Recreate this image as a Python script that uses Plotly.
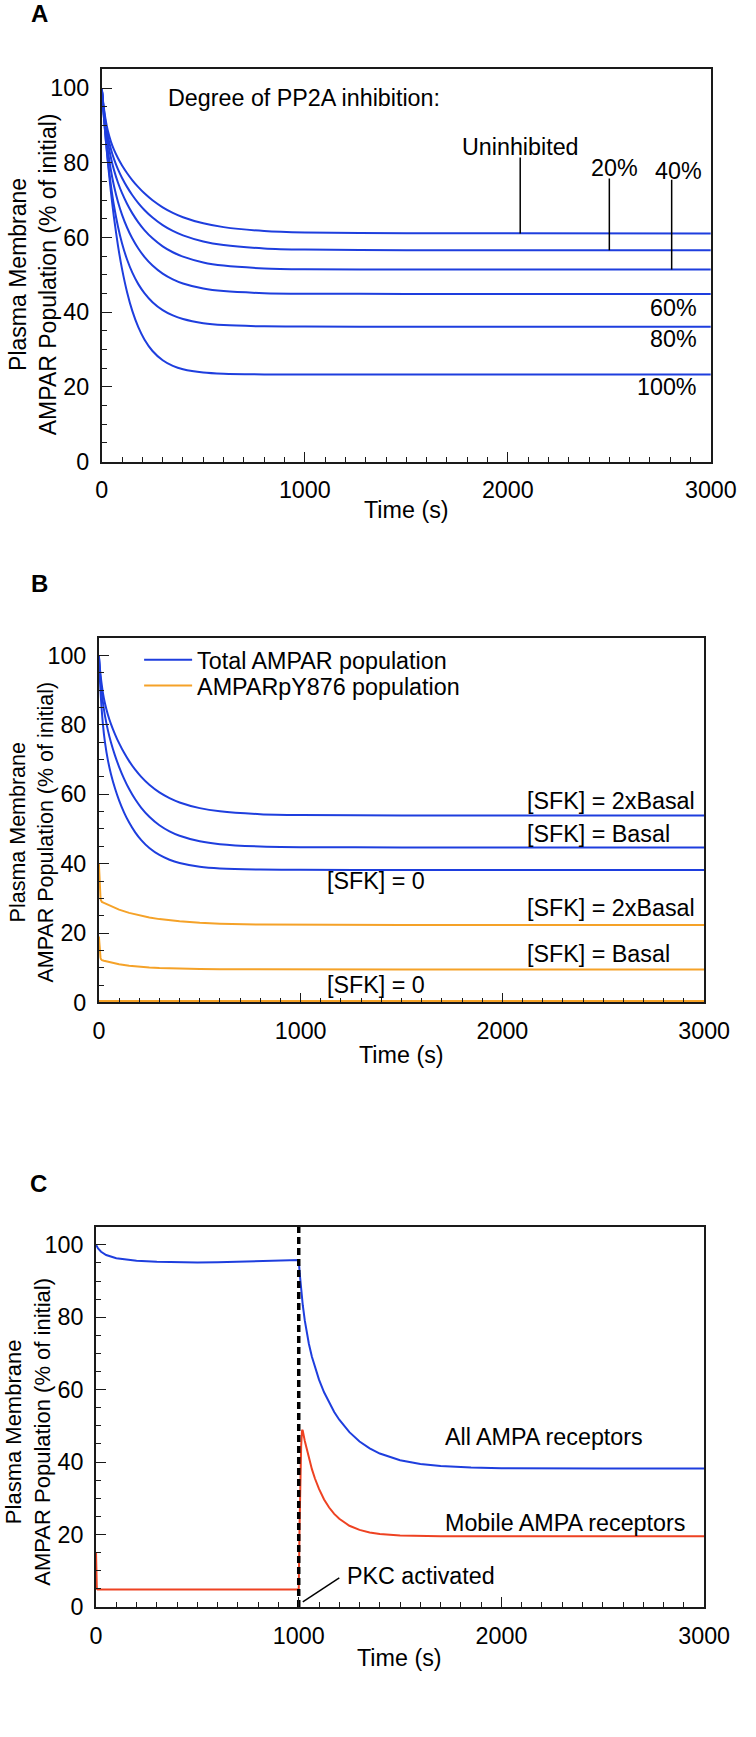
import plotly.graph_objects as go

W, H = 756, 1737
FONT = "Liberation Sans, Arial, Helvetica, sans-serif"
FS = 23.3
BLUE = "rgb(30,62,222)"
ORANGE = "rgb(245,162,40)"
RED = "rgb(238,66,34)"

# ---------------- Panel A data ----------------
tA = [0, 5, 10, 20, 30, 45, 60, 80, 100, 125, 150, 180, 210, 250, 300, 350, 400, 500, 600, 800, 1000, 1500, 3000]
a_uninhibited = [100, 97.16, 94.82, 91.2, 88.56, 85.67, 83.51, 81.21, 79.29, 77.21, 75.38, 73.48, 71.83, 69.97, 68.09,
                 66.61, 65.44, 63.8, 62.78, 61.75, 61.35, 61.12, 61.1]
a_20 = [100, 96.95, 94.37, 90.27, 87.17, 83.69, 81.05, 78.25, 75.95, 73.49, 71.39, 69.22, 67.38, 65.33, 63.31,
        61.76, 60.57, 58.94, 57.98, 57.08, 56.77, 56.61, 56.6]
a_40 = [100, 96.74, 93.91, 89.26, 85.61, 81.38, 78.11, 74.66, 71.86, 68.96, 66.52, 64.06, 61.99, 59.78, 57.64,
        56.05, 54.87, 53.32, 52.47, 51.73, 51.5, 51.4, 51.4]
a_60 = [100, 96.4, 93.19, 87.74, 83.3, 78.02, 73.87, 69.53, 66.08, 62.61, 59.8, 57.05, 54.83, 52.5, 50.34,
        48.8, 47.69, 46.34, 45.64, 45.09, 44.95, 44.9, 44.9]
a_80 = [100, 96.06, 92.45, 86.08, 80.66, 73.97, 68.57, 62.87, 58.4, 54.04, 50.67, 47.51, 45.1, 42.68, 40.55,
        39.13, 38.16, 37.06, 36.54, 36.2, 36.13, 36.1, 36.1]
a_100 = [100, 96.26, 92.7, 86.09, 80.12, 72.2, 65.39, 57.76, 51.52, 45.27, 40.41, 35.98, 32.7, 29.6, 27.12,
         25.62, 24.7, 23.81, 23.49, 23.32, 23.3, 23.3, 23.3]
a_series = [a_uninhibited, a_20, a_40, a_60, a_80, a_100]

# leader lines (x position, top of line, end on curve)
a_lead_x = [2061, 2500, 2807]
a_lead_top = [81.4, 75.8, 75.5]
a_lead_bot = [61.1, 56.6, 51.4]
a_lead_labels = ["Uninhibited", "20%", "40%"]
a_right_labels = ["60%", "80%", "100%"]

# ---------------- Panel B data ----------------
tB = [0, 5, 10, 20, 30, 45, 60, 80, 100, 125, 150, 180, 210, 250, 300, 350, 400, 500, 600, 800, 1000, 1500, 3000]
b_total_2x = [100, 96.34, 93.47, 89.23, 86.22, 82.88, 80.25, 77.3, 74.74, 71.95, 69.55, 67.09, 65.01, 62.74, 60.54,
              58.89, 57.65, 56.02, 55.09, 54.28, 54.02, 53.91, 53.9]
b_total_basal = [100, 95.46, 91.85, 86.5, 82.66, 78.35, 74.94, 71.16, 67.93, 64.45, 61.51, 58.55, 56.11, 53.52, 51.08,
                 49.33, 48.05, 46.46, 45.62, 44.95, 44.77, 44.7, 44.7]
b_total_0 = [100, 93.12, 87.78, 80.18, 75.05, 69.72, 65.81, 61.67, 58.27, 54.74, 51.85, 49.03, 46.8, 44.52, 42.51,
             41.13, 40.2, 39.13, 38.63, 38.29, 38.23, 38.2, 38.2]
tB2 = [0, 2, 4, 6, 8, 10, 15, 25, 50, 75, 100, 150, 200, 250, 300, 400, 500, 600, 800, 1000, 1500, 3000]
b_py_2x = [40, 35.8, 33.0, 31.2, 30.1, 29.5, 28.95, 28.69, 27.97, 27.33, 26.77, 25.82, 25.08, 24.49, 24.02,
           23.37, 22.96, 22.71, 22.46, 22.36, 22.31, 22.3]
b_py_basal = [19, 16.3, 14.6, 13.5, 12.9, 12.5, 12.2, 12.03, 11.64, 11.31, 11.03, 10.6, 10.29, 10.06, 9.9,
              9.71, 9.61, 9.55, 9.51, 9.5, 9.5, 9.5]
b_py_0 = [0.4] * len(tB2)

# ---------------- Panel C data ----------------
PKC_TIME = 1000
tC_all = [0, 10, 25, 50, 100, 150, 200, 300, 400, 500, 600, 700, 800, 900, 1000,
          1005, 1010, 1015, 1020, 1030, 1040, 1050, 1065, 1080, 1100, 1125, 1150, 1175, 1200, 1250, 1300, 1350,
          1400, 1500, 1600, 1700, 1850, 2000, 2500, 3000]
c_all = [100, 99.0, 98.1, 97.2, 96.3, 95.9, 95.6, 95.3, 95.15, 95.1, 95.2, 95.35, 95.5, 95.65, 95.8,
         92.03, 88.74, 85.86, 83.32, 79.06, 75.59, 72.69, 69.09, 66.11, 62.76, 59.28, 56.36, 53.84, 51.7, 48.26,
         45.69, 43.79, 42.36, 40.51, 39.48, 38.91, 38.49, 38.32, 38.2, 38.2]
tC_mob = [0, 1, 2, 4, 8, 500, 1000, 1004, 1008, 1012, 1016, 1019, 1030, 1040, 1050, 1065, 1080, 1100, 1125,
          1150, 1175, 1200, 1250, 1300, 1350, 1400, 1500, 1600, 1700, 2000, 3000]
c_mob = [15, 9, 6.2, 5.0, 4.8, 4.8, 4.8, 22, 36, 44.5, 48.6, 48.9, 45.84, 43.34, 41.05, 38.05, 35.46, 32.58, 29.67,
         27.44, 25.67, 24.32, 22.41, 21.26, 20.57, 20.15, 19.74, 19.59, 19.53, 19.5, 19.5]
c_pkc_lead_x = [1020, 1200]
c_pkc_lead_y = [1.4, 8.0]

x_tickvals = [0, 500, 1000, 1500, 2000, 2500, 3000]
x_ticktext = ["0", "", "1000", "", "2000", "", "3000"]
x_minor = list(range(0, 3001, 100))
y_tickvals = [0, 20, 40, 60, 80, 100]
y_ticktext = ["0", "20", "40", "60", "80", "100"]
y_minor = list(range(0, 106, 5))


def px(x):
    return x / W


def py(y):
    return 1 - y / H


fig = go.Figure()

# Panel A
for s in a_series:
    fig.add_trace(go.Scatter(x=tA, y=s, mode="lines", line=dict(color=BLUE, width=2, shape="spline", smoothing=0.6),
                             xaxis="x", yaxis="y", showlegend=False, hoverinfo="skip"))
for lx, lt, lb in zip(a_lead_x, a_lead_top, a_lead_bot):
    fig.add_trace(go.Scatter(x=[lx, lx], y=[lt, lb], mode="lines", line=dict(color="black", width=1.5),
                             xaxis="x", yaxis="y", showlegend=False, hoverinfo="skip"))

# Panel B
for s, nm, show in [(b_total_2x, "Total AMPAR population", True),
                    (b_total_basal, "", False),
                    (b_total_0, "", False)]:
    fig.add_trace(go.Scatter(x=tB, y=s, mode="lines", name=nm, legend="legend",
                             line=dict(color=BLUE, width=2, shape="spline", smoothing=0.6),
                             xaxis="x2", yaxis="y2", showlegend=show, hoverinfo="skip"))
for s, nm, show in [(b_py_2x, "AMPARpY876 population", True), (b_py_basal, "", False), (b_py_0, "", False)]:
    fig.add_trace(go.Scatter(x=tB2, y=s, mode="lines", name=nm, legend="legend2",
                             line=dict(color=ORANGE, width=2),
                             xaxis="x2", yaxis="y2", showlegend=show, hoverinfo="skip"))

# Panel C
fig.add_trace(go.Scatter(x=tC_all, y=c_all, mode="lines", line=dict(color=BLUE, width=2),
                         xaxis="x3", yaxis="y3", showlegend=False, hoverinfo="skip"))
fig.add_trace(go.Scatter(x=tC_mob, y=c_mob, mode="lines", line=dict(color=RED, width=2),
                         xaxis="x3", yaxis="y3", showlegend=False, hoverinfo="skip"))
fig.add_trace(go.Scatter(x=[PKC_TIME, PKC_TIME], y=[0, 105], mode="lines",
                         line=dict(color="black", width=3.5, dash="7px,4px"),
                         xaxis="x3", yaxis="y3", showlegend=False, hoverinfo="skip"))
fig.add_trace(go.Scatter(x=c_pkc_lead_x, y=c_pkc_lead_y, mode="lines", line=dict(color="black", width=1.5),
                         xaxis="x3", yaxis="y3", showlegend=False, hoverinfo="skip"))

LINE = "#1a1a1a"
TF = dict(family=FONT, size=FS, color="black")


def xaxis(dom, anchor):
    return dict(domain=dom, anchor=anchor, range=[0, 3000], tickmode="array", tickvals=x_tickvals, ticktext=x_ticktext,
                ticks="inside", ticklen=10, tickwidth=1.4, tickcolor=LINE, showline=True, linecolor=LINE,
                linewidth=1.8, mirror=True, showgrid=False, zeroline=False, ticklabelstandoff=7,
                tickfont=TF,
                minor=dict(tickmode="array", tickvals=x_minor, ticks="inside", ticklen=5, tickwidth=1.4,
                           tickcolor=LINE, showgrid=False))


def yaxis(dom, anchor):
    return dict(domain=dom, anchor=anchor, range=[0, 105], tickmode="array", tickvals=y_tickvals, ticktext=y_ticktext,
                ticks="inside", ticklen=10, tickwidth=1.4, tickcolor=LINE, showline=True, linecolor=LINE,
                linewidth=1.8, mirror=True, showgrid=False, zeroline=False, ticklabelstandoff=6,
                tickfont=TF,
                minor=dict(tickmode="array", tickvals=y_minor, ticks="inside", ticklen=5, tickwidth=1.4,
                           tickcolor=LINE, showgrid=False))


ann = []


def a_paper(text, x, y, **kw):
    d = dict(text=text, x=px(x), y=py(y), xref="paper", yref="paper", showarrow=False, font=TF,
             xanchor="center", yanchor="middle")
    d.update(kw)
    ann.append(d)


def a_data(text, x, y, xr, yr, anchor="left"):
    ann.append(dict(text=text, x=x, y=y, xref=xr, yref=yr, showarrow=False, font=TF,
                    xanchor=anchor, yanchor="middle"))


# panel letters
for letter, (lx, ly) in zip(["A", "B", "C"], [(35, 14), (35, 588), (34, 1192)]):
    a_paper("<b>%s</b>" % letter, lx, ly, font=dict(family=FONT, size=24, color="black"))

YT = "Plasma Membrane<br>AMPAR Population (% of initial)"
a_paper(YT, 28.5, 276, textangle=-90, font=dict(family=FONT, size=23, color="black"))
a_paper(YT, 27, 838, textangle=-90, font=dict(family=FONT, size=21.5, color="black"))
a_paper(YT, 23.5, 1443, textangle=-90, font=dict(family=FONT, size=22, color="black"))
a_paper("Time (s)", 418, 514)
a_paper("Time (s)", 413, 1063)
a_paper("Time (s)", 411, 1670)

# Panel A labels
a_data("Degree of PP2A inhibition:", 316, 97.3, "x", "y", "left")
for lab, lx, ly in zip(a_lead_labels, [2061, 2524, 2840], [84.3, 78.5, 77.9]):
    a_data(lab, lx, ly, "x", "y", "center")
for lab, ly in zip(a_right_labels, [41.0, 32.7, 19.9]):
    a_data(lab, 2943, ly, "x", "y", "right")

# Panel B labels
b_labels = ["[SFK] = 2xBasal", "[SFK] = Basal", "[SFK] = 0", "[SFK] = 2xBasal", "[SFK] = Basal", "[SFK] = 0"]
b_lab_x = [2112, 2112, 1120, 2112, 2112, 1120]
b_lab_y = [58.0, 48.6, 34.9, 27.1, 14.0, 4.9]
for lab, lx, ly in zip(b_labels, b_lab_x, b_lab_y):
    a_data(lab, lx, ly, "x2", "y2", "left")

# Panel C labels
a_data("All AMPA receptors", 1710, 46.9, "x3", "y3", "left")
a_data("Mobile AMPA receptors", 1710, 23.3, "x3", "y3", "left")
a_data("PKC activated", 1228, 8.5, "x3", "y3", "left")

fig.update_layout(
    width=W, height=H, margin=dict(l=0, r=0, t=0, b=0),
    paper_bgcolor="white", plot_bgcolor="white",
    font=dict(family=FONT, size=FS, color="black"),
    xaxis=xaxis([px(100), px(736)], "y"),
    yaxis=yaxis([py(465), py(70)], "x"),
    xaxis2=xaxis([px(97), px(729)], "y2"),
    yaxis2=yaxis([py(1010), py(643)], "x2"),
    xaxis3=xaxis([px(94), px(729)], "y3"),
    yaxis3=yaxis([py(1619), py(1236)], "x3"),
    legend=dict(x=px(139), y=py(665), xanchor="left", yanchor="middle", bgcolor="rgba(0,0,0,0)",
                font=TF, itemwidth=48, borderwidth=0),
    legend2=dict(x=px(139), y=py(691), xanchor="left", yanchor="middle", bgcolor="rgba(0,0,0,0)",
                 font=TF, itemwidth=48, borderwidth=0),
    annotations=ann,
)

fig.write_html("out.html", config={"displayModeBar": False},
               post_script="document.body.style.margin='0';document.body.style.overflow='hidden';")
